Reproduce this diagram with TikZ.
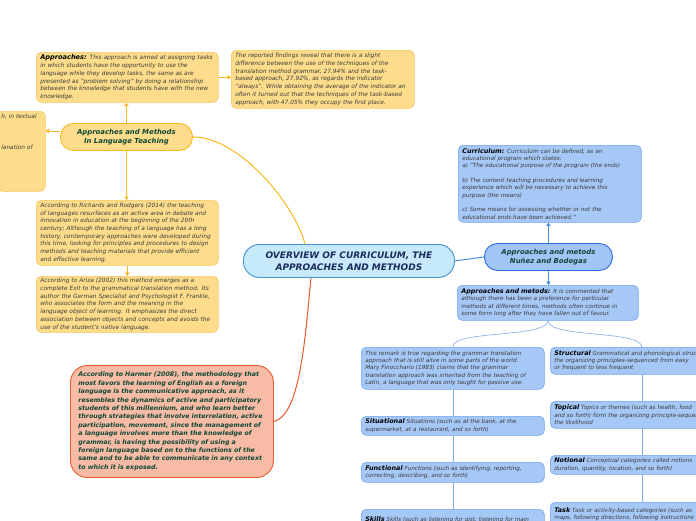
\documentclass[tikz,border=0pt]{standalone}
\usepackage{fontspec}
\setmainfont{DejaVu Sans}
\usetikzlibrary{arrows.meta,calc}

\definecolor{yfill}{HTML}{FDDD8B}
\definecolor{yedge}{HTML}{F8C65A}
\definecolor{yline}{HTML}{F6B81B}
\definecolor{bfill}{HTML}{A6C8F7}
\definecolor{bedge}{HTML}{6FA3EC}
\definecolor{bline}{HTML}{4A8AE0}
\definecolor{bthinline}{HTML}{7FAAE8}
\definecolor{cfill}{HTML}{C6E9FB}
\definecolor{cedge}{HTML}{3F95D5}
\definecolor{nfill}{HTML}{A2C5F7}
\definecolor{nedge}{HTML}{2C6CD6}
\definecolor{hfill}{HTML}{F8BCA6}
\definecolor{hedge}{HTML}{EA5B2C}
\definecolor{titlegreen}{HTML}{0E4634}
\definecolor{navy}{HTML}{1B2B5B}
\definecolor{bodytext}{HTML}{3A3A3A}

\newcommand\txtyel{\fontsize{5.85}{7.7}\selectfont\itshape}
\newcommand\txtblu{\fontsize{5.7}{7.3}\selectfont\itshape}
\newcommand\txttopic{\fontsize{6.9}{8.8}\selectfont\bfseries\itshape}
\newcommand\txtmain{\fontsize{9}{12}\selectfont\bfseries\itshape}
\newcommand\txtharmer{\fontsize{6.3}{8.4}\selectfont\bfseries\itshape}
\newcommand\hd[1]{{\fontsize{6.6}{7.7}\selectfont\bfseries\itshape\color{black}#1}}
\newcommand\hdb[1]{{\fontsize{6.4}{7.3}\selectfont\bfseries\itshape\color{black}#1}}

\begin{document}
\begin{tikzpicture}[x=1pt,y=-1pt,
  ybox/.style={draw=yedge, fill=yfill, rounded corners=5pt, anchor=north west, align=left, inner xsep=4pt, inner ysep=2pt, text=bodytext, font=\txtyel, line width=0.6pt},
  bbox/.style={draw=bedge, fill=bfill, rounded corners=5pt, anchor=north west, align=left, inner xsep=4pt, inner ysep=2pt, text=bodytext, font=\txtblu, line width=0.6pt},
  topic/.style={rounded corners=13pt, anchor=north west, align=center, text=titlegreen, font=\txttopic, line width=0.9pt, inner sep=2pt},
  yarr/.style={draw=yline, line width=0.8pt, -{Triangle[length=3.5pt,width=4.5pt]}},
  barr/.style={draw=bline, line width=0.8pt, -{Triangle[length=3.5pt,width=4.5pt]}},
  bthin/.style={draw=bthinline, line width=0.6pt}]
\useasboundingbox (0,0) rectangle (696,520);
\clip (0,0) rectangle (696,520);

% main topics
\node[topic, draw=cedge, fill=cfill, text=navy, font=\txtmain, minimum width=211pt, minimum height=33pt, rounded corners=16pt] (overview) at (243,244) {OVERVIEW OF CURRICULUM, THE\\APPROACHES AND METHODS};
\node[topic, draw=yline, fill=yfill, minimum width=132pt, minimum height=27pt] (apn) at (60,123) {Approaches and Methods\\In Language Teaching};
\node[topic, draw=nedge, fill=nfill, minimum width=128pt, minimum height=27pt] (nunez) at (484,243) {Approaches and metods\\Nuñez and Bodegas};
\node[topic, draw=hedge, fill=hfill, font=\txtharmer, align=left, rounded corners=17pt, inner xsep=8pt, text width=187pt, minimum height=112pt] (harmer) at (70,365) {According to Harmer (2008), the methodology that\\most favors the learning of English as a foreign\\language is the communicative approach, as it\\resembles the dynamics of active and participatory\\students of this millennium, and who learn better\\through strategies that involve interrelation, active\\participation, movement, since the management of\\a language involves more than the knowledge of\\grammar, is having the possibility of using a\\foreign language based on to the functions of the\\same and to be able to communicate in any context\\to which it is exposed.};

% yellow branch
\node[ybox, text width=174pt, minimum height=50pt] (appbox) at (36,52) {\hd{Approaches:} This approach is aimed at assigning tasks\\in which students have the opportunity to use the\\language while they develop tasks, the same as are\\presented as "problem solving" by doing a relationship\\between the knowledge that students have with the new\\knowledge.};
\node[ybox, text width=175pt, minimum height=58pt] (findbox) at (231,50) {The reported findings reveal that there is a slight\\difference between the use of the techniques of the\\translation method grammar, 27.94\% and the task-\\based approach, 27.92\%, as regards the indicator\\"always". While obtaining the average of the indicator an\\often it turned out that the techniques of the task-based\\approach, with 47.05\% they occupy the first place.};
\node[ybox, text width=40pt, minimum height=80pt] (leftbox) at (-3,111) {h, in textual\\[23pt]lanation of\\[32pt]\mbox{}};
\node[ybox, text width=174pt, minimum height=65pt] (richbox) at (36,200) {According to Richards and Rodgers (2014) the teaching\\of languages resurfaces as an active area in debate and\\innovation in education at the beginning of the 20th\\century; Although the teaching of a language has a long\\history, contemporary approaches were developed during\\this time, looking for principles and procedures to design\\methods and teaching materials that provide efficient\\and effective learning.};
\node[ybox, text width=174pt, minimum height=56pt] (arizabox) at (36,276) {According to Ariza (2002) this method emerges as a\\complete Exit to the grammatical translation method. Its\\author the German Specialist and Psychologist F. Frankle,\\who associates the form and the meaning in the\\language object of learning. It emphasizes the direct\\association between objects and concepts and avoids the\\use of the student's native language.};

% blue branch
\node[bbox, text width=175pt, minimum height=77pt] (curbox) at (458,145) {\hdb{Curriculum:} Curriculum can be defined, as an\\educational program which states:\\a) "The educational purpose of the program (the ends)\\[7.3pt]b) The content teaching procedures and learning\\experience which will be necessary to achieve this\\purpose (the means)\\[7.3pt]c) Some means for assessing whether or not the\\educational ends have been achieved."};
\node[bbox, text width=173pt, minimum height=35pt] (amebox) at (457,285) {\hdb{Approaches and metods:} It is commented that\\although there has been a preference for particular\\methods at different times, methods often continue in\\some form long after they have fallen out of favour.};
\node[bbox, text width=175pt, minimum height=42pt] (remark) at (361,347) {This remark is true regarding the grammar translation\\approach that is still alive in some parts of the world.\\Mary Finocchario (1983) claims that the grammar\\translation approach was inherited from the teaching of\\Latin, a language that was only taught for passive use.};
\node[bbox, text width=175pt, minimum height=19pt] (situ) at (361,416) {\hdb{Situational} Situations (such as at the bank, at the\\supermarket, at a restaurant, and so forth)};
\node[bbox, text width=175pt, minimum height=20pt] (func) at (361,462) {\hdb{Functional} Functions (such as identifying, reporting,\\correcting, describing, and so forth)};
\node[bbox, text width=175pt, minimum height=20pt] (skills) at (361,509) {\hdb{Skills} Skills (such as listening for gist, listening for main};
\node[bbox, text width=175pt, minimum height=27pt] (struct) at (550,347) {\hdb{Structural} Grammatical and phonological structures\\the organizing principles-sequenced from easy\\or frequent to less frequent};
\node[bbox, text width=175pt, minimum height=27pt] (topical) at (550,401) {\hdb{Topical} Topics or themes (such as health, food\\and so forth) form the organizing principle-sequenced\\the likelihood};
\node[bbox, text width=175pt, minimum height=19pt] (notional) at (550,455) {\hdb{Notional} Conceptual categories called notions\\duration, quantity, location, and so forth)};
\node[bbox, text width=175pt, minimum height=24pt] (task) at (550,502) {\hdb{Task} Task or activity-based categories (such as\\maps, following directions, following instructions};

% connectors
\draw[yline, line width=1pt] (apn.east) .. controls (240,137) and (295,205) .. ([xshift=-44pt]overview.north);
\draw[hedge, line width=1pt] ([xshift=-38pt]overview.south) .. controls (305,340) and (300,415) .. (harmer.east);
\draw[bline, line width=1pt] (overview.east) -- (nunez.west);
\draw[yarr] (apn.north) -- (apn.north |- appbox.south);
\draw[yarr] (appbox.east) -- (appbox.east -| findbox.west);
\draw[yarr] ([yshift=6pt]apn.west) -- ([yshift=6pt]apn.west -| leftbox.east);
\draw[yarr] (apn.south) -- (apn.south |- richbox.north);
\draw[yarr] (richbox.south) -- (richbox.south |- arizabox.north);
\draw[barr] (nunez.north) -- (nunez.north |- curbox.south);
\draw[barr] (nunez.south) -- (nunez.south |- amebox.north);
\draw[bthin] (amebox.south) .. controls (548,338) and (452,330) .. (remark.north);
\draw[bthin] (amebox.south) .. controls (548,338) and (641,330) .. (struct.north);
\foreach \a/\b in {remark/situ, situ/func, func/skills, struct/topical, topical/notional, notional/task} \draw[bthin] (\a.south) -- (\b.north);
\end{tikzpicture}
\end{document}
